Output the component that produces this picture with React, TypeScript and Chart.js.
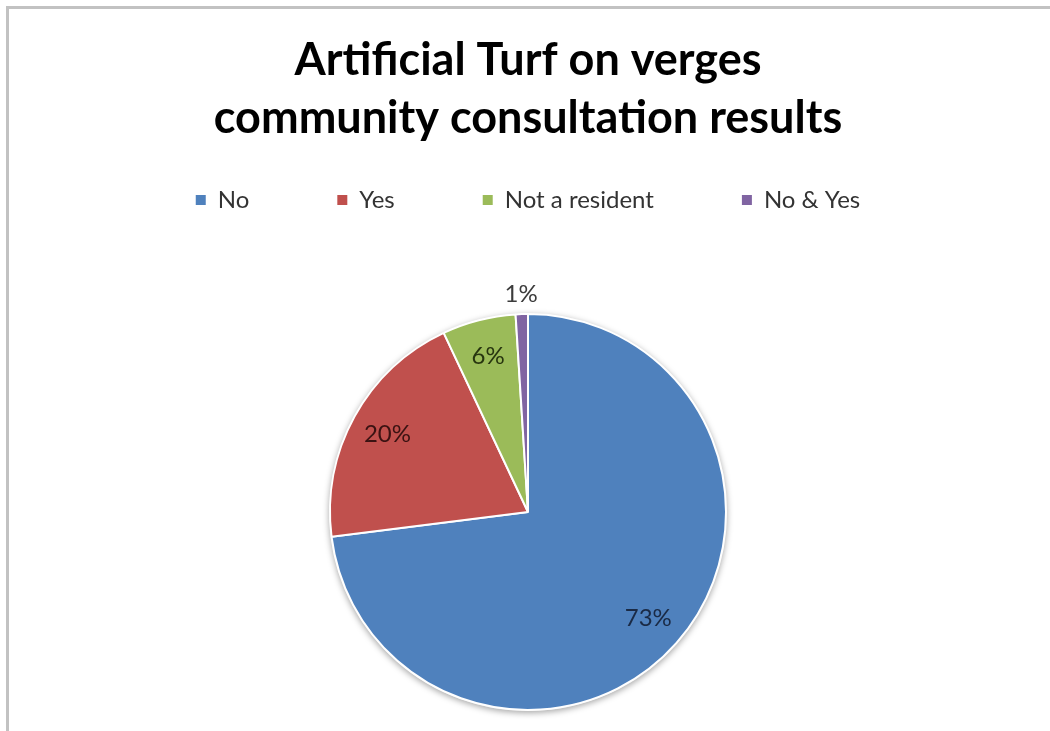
import { useEffect, useRef } from "react";
import { Chart, registerables } from "chart.js";

Chart.register(...registerables);

const categories = ["No", "Yes", "Not a resident", "No & Yes"];
const percentages = [73, 20, 6, 1];
const titleLines = ["Artificial Turf on verges", "community consultation results"];

const sliceColors = ["#4F81BD", "#C0504D", "#9BBB59", "#8064A2"];
const labelColors = ["#1a2a45", "#3a1212", "#27350f", "#3c3c3c"];

const FONT = "Lato, 'Open Sans', sans-serif";

const shadowPlugin = {
  id: "pieShadow",
  beforeDatasetsDraw(chart: any) {
    const arc = chart.getDatasetMeta(0).data[0];
    if (!arc) return;
    const { x, y, outerRadius } = arc.getProps(["x", "y", "outerRadius"], true);
    const ctx = chart.ctx;
    ctx.save();
    ctx.shadowColor = "rgba(0,0,0,0.35)";
    ctx.shadowBlur = 6;
    ctx.shadowOffsetY = 2;
    ctx.beginPath();
    ctx.arc(x, y, outerRadius + 1, 0, Math.PI * 2);
    ctx.fillStyle = "#e6e6e6";
    ctx.fill();
    ctx.restore();
  },
};

const labelPlugin = {
  id: "sliceLabels",
  afterDatasetsDraw(chart: any) {
    const meta = chart.getDatasetMeta(0);
    const ctx = chart.ctx;
    const values = chart.data.datasets[0].data as number[];
    const total = values.reduce((a, b) => a + b, 0);
    ctx.save();
    ctx.font = `24px ${FONT}`;
    ctx.textAlign = "center";
    ctx.textBaseline = "middle";
    meta.data.forEach((el: any, i: number) => {
      const { x, y, startAngle, endAngle, outerRadius } = el.getProps(
        ["x", "y", "startAngle", "endAngle", "outerRadius"],
        true
      );
      const share = values[i] / total;
      const mid = (startAngle + endAngle) / 2;
      const r = outerRadius * (share < 0.03 ? 1.1 : 0.81);
      ctx.fillStyle = labelColors[i];
      ctx.fillText(`${Math.round(share * 100)}%`, x + Math.cos(mid) * r, y + Math.sin(mid) * r);
    });
    ctx.restore();
  },
};

export default function App() {
  const ref = useRef<HTMLCanvasElement>(null);

  useEffect(() => {
    if (!ref.current) return;
    const baseGen = (Chart as any).overrides.doughnut.plugins.legend.labels.generateLabels;
    const chart = new Chart(ref.current, {
      type: "pie",
      data: {
        labels: categories,
        datasets: [
          {
            data: percentages,
            backgroundColor: sliceColors,
            borderColor: "#ffffff",
            borderWidth: 2,
            radius: 198,
          } as any,
        ],
      },
      options: {
        animation: false,
        responsive: false,
        layout: { padding: { left: 6, right: 0, top: 0, bottom: 0 } },
        plugins: {
          title: {
            display: true,
            text: titleLines,
            color: "#000000",
            font: { family: FONT, size: 45, weight: "bold", lineHeight: 58 / 45 },
            padding: { top: 31, bottom: -47 },
          },
          legend: {
            position: "top",
            labels: {
              color: "#333333",
              font: { family: FONT, size: 24 },
              boxWidth: 10,
              boxHeight: 10,
              padding: 88,
              generateLabels: (c: any) =>
                baseGen(c).map((l: any) => ({ ...l, lineWidth: 0, strokeStyle: "rgba(0,0,0,0)" })),
            },
          },
          tooltip: { enabled: false },
        },
      },
      plugins: [shadowPlugin, labelPlugin],
    });
    return () => chart.destroy();
  }, []);

  return (
    <div
      style={{
        position: "fixed",
        left: 0,
        top: 0,
        width: 1050,
        height: 731,
        overflow: "hidden",
        background: "#ffffff",
      }}
    >
      <div
        style={{
          position: "absolute",
          left: 6,
          top: 6,
          width: 1100,
          height: 800,
          borderTop: "3px solid #c2c2c2",
          borderLeft: "3px solid #c2c2c2",
        }}
      />
      <canvas ref={ref} width={1050} height={802} style={{ position: "absolute", left: 0, top: 0 }} />
    </div>
  );
}
